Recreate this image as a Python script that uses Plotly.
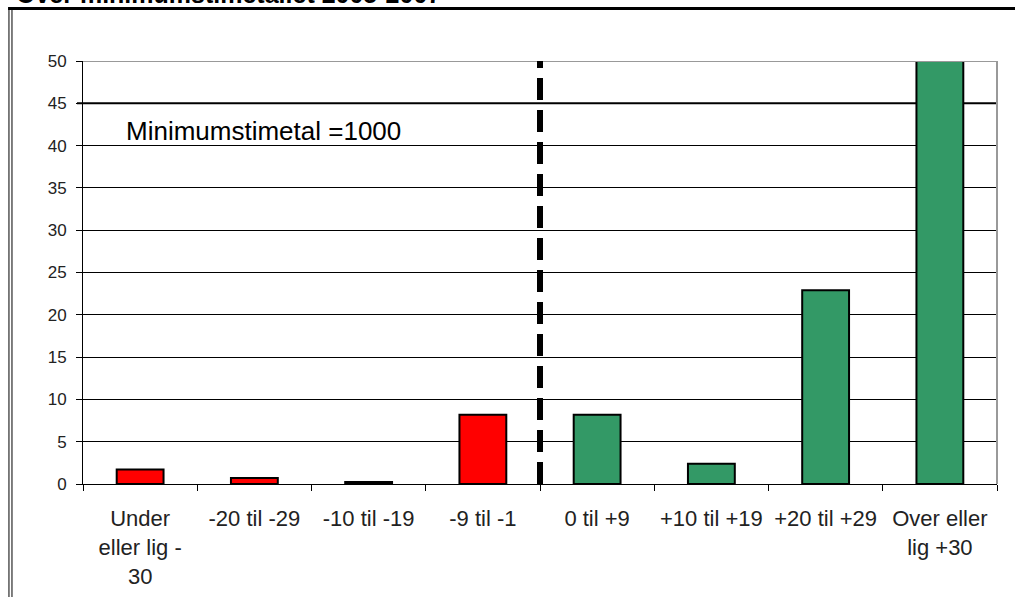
import plotly.graph_objects as go

categories = ["Under<br>eller lig -<br>30", "-20 til -29", "-10 til -19", "-9 til -1",
              "0 til +9", "+10 til +19", "+20 til +29", "Over eller<br>lig +30"]
values = [1.7, 0.7, 0.25, 8.2, 8.2, 2.4, 22.9, 52]
bar_colors = ["#FF0000", "#FF0000", "#FF0000", "#FF0000",
              "#339966", "#339966", "#339966", "#339966"]
y_ticks = [0, 5, 10, 15, 20, 25, 30, 35, 40, 45, 50]
threshold_y = 45
divider_x = 3.5
note_text = "Minimumstimetal =1000"
title_text = "Over minimumstimetallet 2005-2007"

FONT = "Liberation Sans, Arial, sans-serif"

fig = go.Figure()
fig.add_trace(go.Bar(
    x=categories, y=values,
    marker=dict(color=bar_colors, line=dict(color="black", width=2)),
    width=0.41, showlegend=False, hoverinfo="skip",
))

fig.update_layout(
    width=1015, height=597,
    margin=dict(l=83, r=18, t=61, b=113),
    paper_bgcolor="white", plot_bgcolor="white",
    font=dict(family=FONT, color="#222222"),
    bargap=0.59,
)
fig.update_xaxes(
    type="category", tickson="boundaries", ticks="outside", ticklen=6, tickcolor="black",
    showline=True, linecolor="black", linewidth=1, showgrid=False, automargin=False,
    tickfont=dict(size=22, family=FONT, color="#222222"), ticklabelstandoff=15,
    range=[-0.5, 7.5],
)
fig.update_yaxes(
    range=[0, 50], tickvals=y_ticks, ticks="outside", ticklen=6, tickcolor="black",
    showline=True, linecolor="black", linewidth=1, automargin=False,
    showgrid=True, gridcolor="black", gridwidth=1, zeroline=False,
    tickfont=dict(size=17, family=FONT, color="#222222"), ticklabelstandoff=6,
)

# plot border (gray top and right)
fig.add_shape(type="line", xref="paper", yref="y", x0=0, x1=1, y0=50, y1=50,
              line=dict(color="#999999", width=2), layer="above")
fig.add_shape(type="line", xref="paper", yref="paper", x0=1, x1=1, y0=0, y1=1,
              line=dict(color="#999999", width=2), layer="above")
# threshold line
fig.add_shape(type="line", xref="paper", yref="y", x0=-0.0066, x1=1, y0=threshold_y, y1=threshold_y,
              line=dict(color="black", width=2), layer="below")
# divider dashed line
fig.add_shape(type="line", xref="x", yref="y", x0=divider_x, x1=divider_x, y0=0, y1=50,
              line=dict(color="black", width=6, dash="22px,10px"), layer="above")

fig.add_annotation(x=0.045, y=41.7, xref="paper", yref="y", text=note_text, showarrow=False,
                   xanchor="left", yanchor="middle",
                   font=dict(size=26, family=FONT, color="black"))

# outer frame
fig.add_shape(type="line", xref="paper", yref="paper", x0=-0.082, x1=1.03, y0=1.124, y1=1.124,
              line=dict(color="black", width=3), layer="above")
fig.add_shape(type="line", xref="paper", yref="paper", x0=-0.081, x1=-0.081, y0=-0.3, y1=1.124,
              line=dict(color="black", width=1), layer="above")
fig.add_shape(type="line", xref="paper", yref="paper", x0=-0.0777, x1=-0.0777, y0=-0.3, y1=1.124,
              line=dict(color="black", width=1), layer="above")

# cropped title
fig.add_annotation(x=-0.076, y=1.12, xref="paper", yref="paper", text="<b>" + title_text + "</b>",
                   showarrow=False, xanchor="left", yanchor="bottom",
                   font=dict(size=25, family=FONT, color="black"))

fig.write_html("out.html", config={"displayModeBar": False},
               post_script="document.body.style.margin='0';")
